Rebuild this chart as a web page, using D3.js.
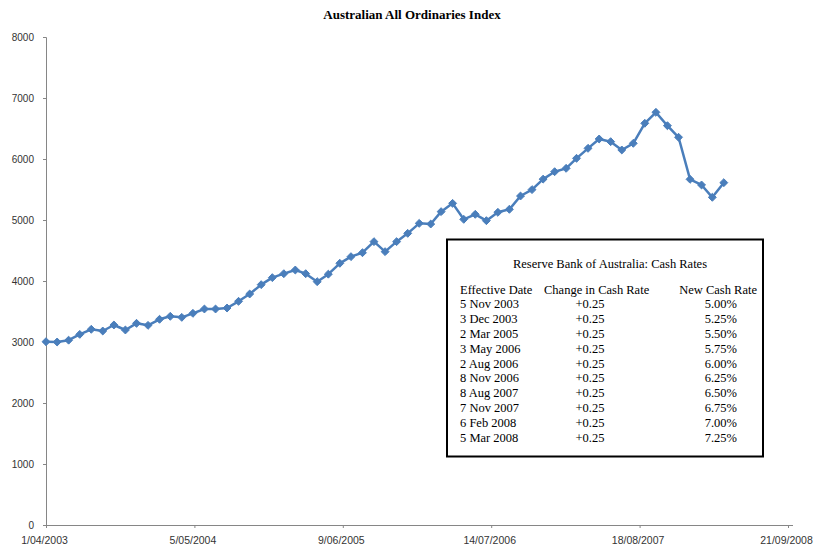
<!DOCTYPE html>
<html>
<head>
<meta charset="utf-8">
<script src="https://cdn.jsdelivr.net/npm/d3@7"></script>
<style>
  html, body { margin: 0; padding: 0; background: #fff; }
  svg { display: block; }
</style>
</head>
<body>
<svg id="chart" width="814" height="551"></svg>
<script>
// ---------- data ----------
const months = [
  "2003-04","2003-05","2003-06","2003-07","2003-08","2003-09","2003-10","2003-11","2003-12",
  "2004-01","2004-02","2004-03","2004-04","2004-05","2004-06","2004-07","2004-08","2004-09","2004-10","2004-11","2004-12",
  "2005-01","2005-02","2005-03","2005-04","2005-05","2005-06","2005-07","2005-08","2005-09","2005-10","2005-11","2005-12",
  "2006-01","2006-02","2006-03","2006-04","2006-05","2006-06","2006-07","2006-08","2006-09","2006-10","2006-11","2006-12",
  "2007-01","2007-02","2007-03","2007-04","2007-05","2007-06","2007-07","2007-08","2007-09","2007-10","2007-11","2007-12",
  "2008-01","2008-02","2008-03","2008-04"
];
const allOrds = [
  3005, 3000, 3030, 3125, 3208, 3180, 3279, 3197, 3306,
  3273, 3372, 3421, 3404, 3470, 3541, 3541, 3557, 3667, 3787, 3940, 4055,
  4120, 4180, 4120, 3989, 4112, 4290, 4399, 4464, 4645, 4481, 4645, 4781,
  4945, 4934, 5137, 5273, 5011, 5093, 4989, 5126, 5175, 5393, 5498, 5670,
  5792, 5847, 6011, 6175, 6328, 6284, 6148, 6257, 6585, 6765, 6546, 6356,
  5667, 5574, 5372, 5612
];
const xTickLabels = ["1/04/2003","5/05/2004","9/06/2005","14/07/2006","18/08/2007","21/09/2008"];
const yTicks = [0,1000,2000,3000,4000,5000,6000,7000,8000];

const chartTitle = "Australian All Ordinaries Index";
const tableTitle = "Reserve Bank of Australia: Cash Rates";
const tableHeaders = ["Effective Date", "Change in Cash Rate", "New Cash Rate"];
const rateDates = ["5 Nov 2003","3 Dec 2003","2 Mar 2005","3 May 2006","2 Aug 2006","8 Nov 2006","8 Aug 2007","7 Nov 2007","6 Feb 2008","5 Mar 2008"];
const rateChanges = ["+0.25","+0.25","+0.25","+0.25","+0.25","+0.25","+0.25","+0.25","+0.25","+0.25"];
const newRates = ["5.00%","5.25%","5.50%","5.75%","6.00%","6.25%","6.50%","6.75%","7.00%","7.25%"];

// ---------- drawing ----------
const svg = d3.select("#chart");
const parseTick = d3.timeParse("%d/%m/%Y");
const parseMonth = d3.timeParse("%Y-%m");
const fmtTick = d => `${d.getDate()}/${d3.timeFormat("%m/%Y")(d)}`;

const tickDates = xTickLabels.map(parseTick);
const data = months.map((m, i) => ({ date: parseMonth(m), value: allOrds[i] }));

const x = d3.scaleTime()
  .domain([tickDates[0], tickDates[tickDates.length - 1]])
  .range([46, 788]);
const y = d3.scaleLinear().domain([0, 8000]).range([525, 37]);

const axisColor = "#868686";
const textColor = "#333";

// title
svg.append("text")
  .attr("x", 412).attr("y", 19)
  .attr("text-anchor", "middle")
  .attr("font-family", "'Liberation Serif', 'Times New Roman', serif")
  .attr("font-weight", "bold")
  .attr("font-size", 13)
  .attr("fill", "#000")
  .text(chartTitle);

// y axis
const yAxis = svg.append("g")
  .attr("transform", "translate(46,0)")
  .call(d3.axisLeft(y).tickValues(yTicks).tickSize(3).tickPadding(9).tickFormat(d3.format("d")));
yAxis.select(".domain").attr("stroke", axisColor);
yAxis.selectAll(".tick line").attr("stroke", axisColor);
yAxis.selectAll("text")
  .attr("fill", textColor)
  .attr("font-family", "'Liberation Sans', Arial, sans-serif")
  .attr("font-size", 10);

// x axis
const xAxis = svg.append("g")
  .attr("transform", "translate(0,525)")
  .call(d3.axisBottom(x).tickValues(tickDates).tickSize(3).tickSizeOuter(0).tickPadding(9).tickFormat(fmtTick));
xAxis.select(".domain").attr("stroke", axisColor).attr("d", "M46,0.5H793");
xAxis.selectAll(".tick line").attr("stroke", axisColor);
xAxis.selectAll("text")
  .attr("fill", textColor)
  .attr("dx", -2)
  .attr("font-family", "'Liberation Sans', Arial, sans-serif")
  .attr("font-size", 10.5);

// line
const lineColor = "#4a7ebb";
svg.append("path")
  .datum(data)
  .attr("fill", "none")
  .attr("stroke", lineColor)
  .attr("stroke-width", 2.5)
  .attr("stroke-linejoin", "round")
  .attr("d", d3.line().x(d => x(d.date)).y(d => y(d.value)));

svg.append("g").selectAll("path")
  .data(data)
  .join("path")
  .attr("transform", d => `translate(${x(d.date)},${y(d.value)})`)
  .attr("d", d3.symbol(d3.symbolDiamond2, 40))
  .attr("fill", lineColor)
  .attr("stroke", lineColor)
  .attr("stroke-width", 1);

// table box
const box = svg.append("g");
box.append("rect")
  .attr("x", 447).attr("y", 239.5)
  .attr("width", 316).attr("height", 217)
  .attr("fill", "#fff")
  .attr("stroke", "#000")
  .attr("stroke-width", 2);

const serif = "'Liberation Serif', 'Times New Roman', serif";
const tfs = 12.5;
box.append("text")
  .attr("x", 610).attr("y", 268)
  .attr("text-anchor", "middle")
  .attr("font-family", serif).attr("font-size", tfs).attr("fill", "#000")
  .text(tableTitle);

const headerY = 293.5;
const rowStep = 14.8;
const colX = [460, 544, 757];
const anchors = ["start", "start", "end"];
tableHeaders.forEach((h, i) => {
  box.append("text")
    .attr("x", colX[i]).attr("y", headerY)
    .attr("text-anchor", anchors[i])
    .attr("font-family", serif).attr("font-size", tfs).attr("fill", "#000")
    .text(h);
});

rateDates.forEach((d, i) => {
  const yy = headerY + rowStep * (i + 1);
  box.append("text").attr("x", 460).attr("y", yy)
    .attr("font-family", serif).attr("font-size", tfs).attr("fill", "#000").text(d);
  box.append("text").attr("x", 590).attr("y", yy).attr("text-anchor", "middle")
    .attr("font-family", serif).attr("font-size", tfs).attr("fill", "#000").text(rateChanges[i]);
  box.append("text").attr("x", 737).attr("y", yy).attr("text-anchor", "end")
    .attr("font-family", serif).attr("font-size", tfs).attr("fill", "#000").text(newRates[i]);
});
</script>
</body>
</html>
